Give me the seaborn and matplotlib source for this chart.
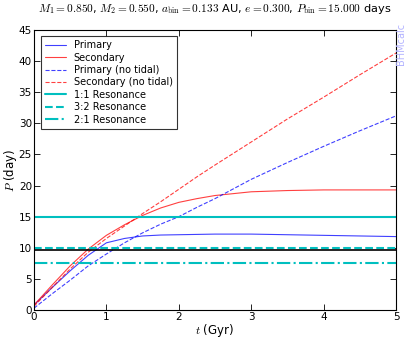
import numpy as np
import pandas as pd
import seaborn as sns
import matplotlib
matplotlib.use("Agg")
import matplotlib.pyplot as plt

# time grid (Gyr) and periods (days)
t_gyr = [0.0, 0.25, 0.5, 0.75, 1.0, 1.25, 1.5, 1.75, 2.0, 2.25, 2.5, 3.0, 3.5, 4.0, 4.5, 5.0]
p_primary = [0.8, 3.6, 6.3, 8.8, 10.8, 11.5, 11.9, 12.05, 12.1, 12.15, 12.2, 12.2, 12.1, 12.0, 11.9, 11.8]
p_secondary = [0.8, 4.0, 7.1, 9.8, 12.0, 13.7, 15.2, 16.4, 17.3, 17.9, 18.4, 19.0, 19.2, 19.3, 19.3, 19.3]
p_primary_nt = [0.3, 2.6, 4.8, 7.1, 9.0, 10.8, 12.4, 13.8, 15.0, 16.5, 17.9, 21.0, 23.7, 26.3, 28.8, 31.2]
p_secondary_nt = [0.6, 3.6, 6.6, 9.3, 11.5, 13.5, 15.5, 17.4, 19.4, 21.4, 23.3, 27.0, 30.7, 34.2, 37.8, 41.3]

res_11 = 15.0
res_32 = 10.0
res_21 = 7.5
p_crit = 9.6  # unlabelled black line

BLUE, RED, CYAN = "#0000ff", "#ff0000", "#00bfbf"

sns.set_theme(style="ticks")
plt.rcParams.update({"font.family": ["DejaVu Sans"], "mathtext.fontset": "cm",
                     "xtick.direction": "in", "ytick.direction": "in",
                     "xtick.top": True, "ytick.right": True,
                     "axes.edgecolor": "black", "axes.linewidth": 0.8,
                     "xtick.color": "black", "ytick.color": "black",
                     "text.color": "black", "axes.labelcolor": "black"})

fig = plt.figure(figsize=(4.07, 3.39), dpi=100)
ax = fig.add_axes([0.0835, 0.0855, 0.8895, 0.826])

series = [
    (p_primary, "Primary", BLUE, "-"),
    (p_secondary, "Secondary", RED, "-"),
    (p_primary_nt, "Primary (no tidal)", BLUE, "--"),
    (p_secondary_nt, "Secondary (no tidal)", RED, "--"),
]
for vals, lab, col, ls in series:
    sns.lineplot(x=t_gyr, y=vals, ax=ax, color=col, linestyle=ls, linewidth=0.8,
                 alpha=0.75, label=lab)

ax.axhline(res_11, color=CYAN, linestyle="-", linewidth=1.5, label="1:1 Resonance")
ax.axhline(res_32, color=CYAN, linestyle="--", linewidth=1.5, label="3:2 Resonance")
ax.axhline(res_21, color=CYAN, linestyle="-.", linewidth=1.5, label="2:1 Resonance")
ax.axhline(p_crit, color="black", linewidth=1.2)

ax.set_xlim(0, 5)
ax.set_ylim(0, 45)
ax.set_xticks(range(0, 6))
ax.set_yticks(range(0, 50, 5))
ax.tick_params(labelsize=7.5, length=4, width=0.6, pad=1.5)
ax.set_xlabel(r"$t$ (Gyr)", fontsize=8.5, labelpad=0)
ax.set_ylabel(r"$P$ (day)", fontsize=8.5, labelpad=0)
ax.set_title(r"$M_1=0.850$, $M_2=0.550$, $a_{\rm bin}=0.133$ AU, $e=0.300$, "
             r"$P_{\rm bin}=15.000$ days", fontsize=8.2, pad=13)

leg = ax.legend(loc="upper left", fontsize=7, frameon=True, fancybox=False,
                handlelength=2.2, borderpad=0.4, labelspacing=0.25,
                bbox_to_anchor=(0.005, 0.995))
leg.get_frame().set_edgecolor("black")
leg.get_frame().set_linewidth(0.8)

fig.text(0.986, 0.87, "BHMcalc", rotation=90, color=(0.7, 0.7, 1.0),
         fontsize=7, ha="center", va="center")

fig.savefig("out.png", dpi=100)
